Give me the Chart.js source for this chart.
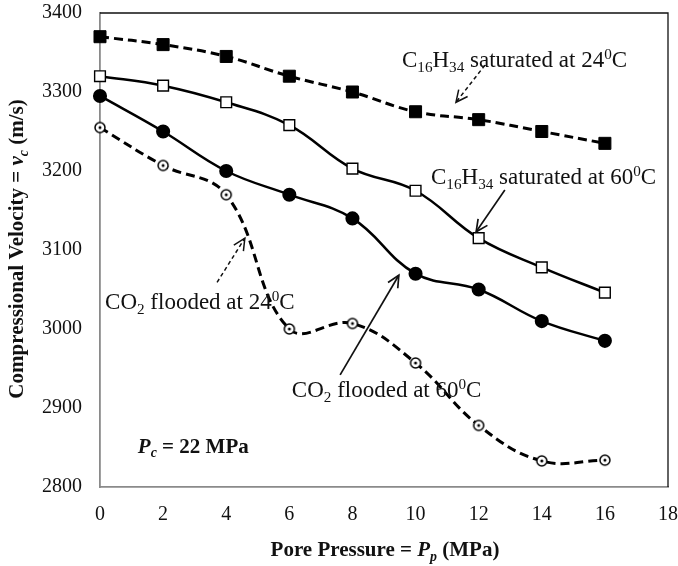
<!DOCTYPE html>
<html>
<head>
<meta charset="utf-8">
<script src="https://cdn.jsdelivr.net/npm/chart.js@4.4.1/dist/chart.umd.min.js"></script>
<style>
html,body{margin:0;padding:0;background:#fff;}
#wrap{width:678px;height:566px;}
</style>
</head>
<body>
<div id="wrap"><canvas id="c" width="678" height="566"></canvas></div>
<script>
// ---- data ----
const porePressure = [0, 2, 4, 6, 8, 10, 12, 14, 16];
const c16h34_24C = [3370, 3360, 3345, 3320, 3300, 3275, 3265, 3250, 3235];
const c16h34_60C = [3320, 3308, 3287, 3258, 3203, 3175, 3115, 3078, 3046];
const co2_60C   = [3295, 3250, 3200, 3170, 3140, 3070, 3050, 3010, 2985];
const co2_24C   = [3255, 3207, 3170, 3000, 3007, 2957, 2878, 2833, 2834];
const xTicks = {min: 0, max: 18, step: 2};
const yTicks = {min: 2800, max: 3400, step: 100};

// annotation labels (data coordinates)
const labels = [
  {x: 9.57, y: 3341, parts: [['C'],['16','sub'],['H'],['34','sub'],[' saturated at 24'],['0','sup'],['C']]},
  {x: 10.49, y: 3193, parts: [['C'],['16','sub'],['H'],['34','sub'],[' saturated at 60'],['0','sup'],['C']]},
  {x: 0.16, y: 3035, parts: [['CO'],['2','sub'],[' flooded at 24'],['0','sup'],['C']]},
  {x: 6.08, y: 2923, parts: [['CO'],['2','sub'],[' flooded at 60'],['0','sup'],['C']]}
];
const arrows = [
  {x1: 12.20, y1: 3334, x2: 11.28, y2: 3287, dashed: true},
  {x1: 12.83, y1: 3176, x2: 11.92, y2: 3123, dashed: false},
  {x1: 3.71, y1: 3059, x2: 4.59, y2: 3115, dashed: true},
  {x1: 7.61, y1: 2942, x2: 9.47, y2: 3068, dashed: false}
];
const pcNote = {x: 1.2, y: 2852};

const toXY = (ys) => ys.map((v, i) => ({x: porePressure[i], y: v}));

// point style: open circle with a centre dot
function dotCircle() {
  const cv = document.createElement('canvas');
  cv.width = 14; cv.height = 14;
  const g = cv.getContext('2d');
  g.beginPath(); g.arc(7, 7, 5, 0, Math.PI * 2);
  g.fillStyle = '#fff'; g.fill();
  g.lineWidth = 1.5; g.strokeStyle = '#000'; g.stroke();
  g.beginPath(); g.arc(7, 7, 1.5, 0, Math.PI * 2);
  g.fillStyle = '#000'; g.fill();
  return cv;
}

const SERIF = '"Liberation Serif", "Times New Roman", serif';

function drawRich(ctx, x, y, parts, size, weight, align) {
  const segs = parts.map(p => {
    const kind = p[1] || 'n';
    const italic = p[2] === 'i';
    const s = (kind === 'sub' || kind === 'sup') ? size * 0.66 : size;
    ctx.font = (italic ? 'italic ' : '') + weight + ' ' + s + 'px ' + SERIF;
    return {t: p[0], kind, italic, s, w: ctx.measureText(p[0]).width};
  });
  const total = segs.reduce((a, b) => a + b.w, 0);
  let cx = align === 'center' ? x - total / 2 : x;
  ctx.textBaseline = 'alphabetic';
  ctx.textAlign = 'left';
  const base = y + size * 0.33;
  segs.forEach(sg => {
    ctx.font = (sg.italic ? 'italic ' : '') + weight + ' ' + sg.s + 'px ' + SERIF;
    let yy = base;
    if (sg.kind === 'sub') yy = base + size * 0.22;
    if (sg.kind === 'sup') yy = base - size * 0.36;
    ctx.fillText(sg.t, cx, yy);
    cx += sg.w;
  });
}

const annotPlugin = {
  id: 'annot',
  afterDraw(chart) {
    const ctx = chart.ctx;
    const xs = chart.scales.x, ys = chart.scales.y;
    const a = chart.chartArea;
    ctx.save();
    // top and right frame
    ctx.strokeStyle = '#111'; ctx.lineWidth = 1.3;
    ctx.beginPath();
    ctx.moveTo(a.left, a.top); ctx.lineTo(a.right, a.top); ctx.lineTo(a.right, a.bottom);
    ctx.stroke();
    ctx.fillStyle = '#111';
    labels.forEach(l => drawRich(ctx, xs.getPixelForValue(l.x), ys.getPixelForValue(l.y), l.parts, 23, 'normal', 'left'));
    // arrows
    arrows.forEach(ar => {
      const x1 = xs.getPixelForValue(ar.x1), y1 = ys.getPixelForValue(ar.y1);
      const x2 = xs.getPixelForValue(ar.x2), y2 = ys.getPixelForValue(ar.y2);
      ctx.strokeStyle = '#111';
      ctx.lineWidth = ar.dashed ? 1.5 : 1.7;
      ctx.setLineDash(ar.dashed ? [4, 3] : []);
      ctx.beginPath(); ctx.moveTo(x1, y1); ctx.lineTo(x2, y2); ctx.stroke();
      ctx.setLineDash([]);
      const ang = Math.atan2(y2 - y1, x2 - x1);
      const L = 13, sp = 0.45;
      ctx.beginPath();
      ctx.moveTo(x2 - L * Math.cos(ang - sp), y2 - L * Math.sin(ang - sp));
      ctx.lineTo(x2, y2);
      ctx.lineTo(x2 - L * Math.cos(ang + sp), y2 - L * Math.sin(ang + sp));
      ctx.stroke();
    });
    // Pc note
    drawRich(ctx, xs.getPixelForValue(pcNote.x), ys.getPixelForValue(pcNote.y),
      [['P', 'n', 'i'], ['c', 'sub', 'i'], [' = 22 MPa']], 21, 'bold', 'left');
    // axis titles
    drawRich(ctx, 385, 549,
      [['Pore Pressure = '], ['P', 'n', 'i'], ['p', 'sub', 'i'], [' (MPa)']], 21, 'bold', 'center');
    ctx.translate(16, 249);
    ctx.rotate(-Math.PI / 2);
    drawRich(ctx, 0, 0,
      [['Compressional Velocity = '], ['v', 'n', 'i'], ['c', 'sub', 'i'], [' (m/s)']], 21, 'bold', 'center');
    ctx.restore();
  }
};

const ds = (data, opt) => Object.assign({
  data: toXY(data), borderColor: '#000', backgroundColor: '#000',
  tension: 0.4, fill: false, pointBorderColor: '#000', clip: false
}, opt);

new Chart(document.getElementById('c'), {
  type: 'line',
  data: {
    datasets: [
      ds(co2_24C, {borderWidth: 3, borderDash: [9, 5], pointStyle: dotCircle(), pointRadius: 7}),
      ds(co2_60C, {borderWidth: 2.5, pointStyle: 'circle', pointRadius: 5.8, pointBackgroundColor: '#000'}),
      ds(c16h34_60C, {borderWidth: 2.5, pointStyle: 'rect', pointRadius: 7.6, pointBackgroundColor: '#fff', pointBorderWidth: 1.4}),
      ds(c16h34_24C, {borderWidth: 3, borderDash: [9, 5], pointStyle: 'rect', pointRadius: 8.5, pointBackgroundColor: '#000', pointBorderWidth: 1})
    ]
  },
  options: {
    responsive: false,
    animation: false,
    layout: {padding: {left: 0, top: 13, right: 10, bottom: 0}},
    plugins: {legend: {display: false}, tooltip: {enabled: false}},
    scales: {
      x: {
        type: 'linear', min: xTicks.min, max: xTicks.max,
        grid: {display: false, drawTicks: false},
        border: {display: true, color: '#8a8a8a', width: 1.8},
        ticks: {stepSize: xTicks.step, color: '#111', padding: 16, font: {family: SERIF, size: 20},
                callback: v => String(v)},
        afterFit(s) { s.height = 79; s.paddingLeft = 0; s.paddingRight = 0; }
      },
      y: {
        type: 'linear', min: yTicks.min, max: yTicks.max,
        grid: {display: false, drawTicks: false},
        border: {display: true, color: '#8a8a8a', width: 1.8},
        ticks: {stepSize: yTicks.step, color: '#111', padding: 18, font: {family: SERIF, size: 20},
                callback: v => String(v)},
        afterFit(s) { s.width = 100; s.paddingTop = 0; s.paddingBottom = 0; }
      }
    }
  },
  plugins: [annotPlugin]
});
</script>
</body>
</html>
